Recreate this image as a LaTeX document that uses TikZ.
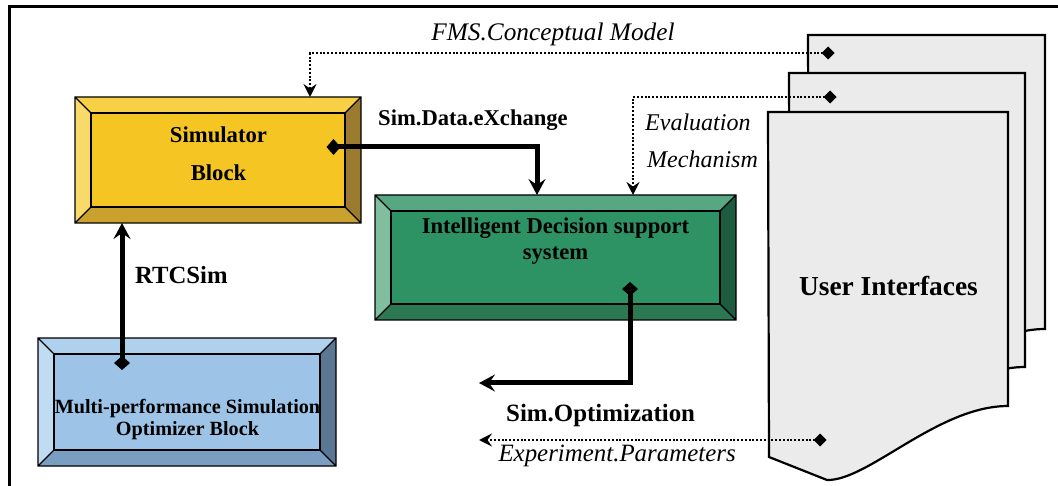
\documentclass[tikz,border=0pt]{standalone}
\usepackage{fontspec}
\setmainfont{Liberation Serif}
\usetikzlibrary{arrows.meta}
\definecolor{yF}{HTML}{F5C623}\definecolor{yT}{HTML}{F7D046}\definecolor{yL}{HTML}{F8DA6B}\definecolor{yR}{HTML}{9B7B2F}\definecolor{yB}{HTML}{C9A12C}
\definecolor{gF}{HTML}{2E9364}\definecolor{gT}{HTML}{57A882}\definecolor{gL}{HTML}{7FBF9F}\definecolor{gR}{HTML}{1D5C3F}\definecolor{gB}{HTML}{2B7852}
\definecolor{bF}{HTML}{9DC3E6}\definecolor{bT}{HTML}{AFD1EE}\definecolor{bL}{HTML}{C0DCF2}\definecolor{bR}{HTML}{5A7894}\definecolor{bB}{HTML}{7A9EC2}
\definecolor{pageF}{HTML}{EBEBEB}
\newcommand{\bevelblock}[6]{%
  \fill[#6T] (#2,#3) -- (#4,#3) -- ({#4-16},{#3+16}) -- ({#2+16},{#3+16}) -- cycle;
  \fill[#6B] (#2,#5) -- (#4,#5) -- ({#4-16},{#5-16}) -- ({#2+16},{#5-16}) -- cycle;
  \fill[#6L] (#2,#3) -- ({#2+16},{#3+16}) -- ({#2+16},{#5-16}) -- (#2,#5) -- cycle;
  \fill[#6R] (#4,#3) -- ({#4-16},{#3+16}) -- ({#4-16},{#5-16}) -- (#4,#5) -- cycle;
  \node[draw, line width=1.4pt, fill=#6F, inner sep=0pt, minimum width={#4-#2-32}, minimum height={#5-#3-32}] (#1) at ({(#2+#4)/2},{(#3+#5)/2}) {};
  \draw[line width=1.4pt] (#2,#3) rectangle (#4,#5)
     (#2,#3) -- ({#2+16},{#3+16}) (#4,#3) -- ({#4-16},{#3+16})
     (#2,#5) -- ({#2+16},{#5-16}) (#4,#5) -- ({#4-16},{#5-16});
}
\newcommand{\docpage}[3]{%
  \filldraw[fill=pageF, draw=black, line width=2.2pt, line join=miter]
    (#1,#2) -- ({#1+#3},#2) -- ({#1+#3},{#2+294})
    .. controls ({#1+#3-70},{#2+294}) and ({#1+100},{#2+369}) .. ({#1+59},{#2+368})
    -- ({#1+1},{#2+345}) -- cycle;
}
\tikzset{
  btxt/.style={font=\bfseries\fontsize{#1}{#1}\selectfont, inner sep=0pt},
  itxt/.style={font=\itshape\fontsize{#1}{#1}\selectfont, inner sep=0pt},
  thickconn/.style={line width=5pt, line join=miter},
  dotconn/.style={line width=2.4pt, dash pattern=on 2pt off 1.8pt},
  barb/.tip={Stealth[length=16pt,width=17pt,inset=6pt]},
  dbarb/.tip={Stealth[length=13pt,width=13pt,inset=4.5pt]},
  bigdia/.tip={Diamond[length=14pt,width=16pt]},
  smalldia/.tip={Diamond[length=13pt,width=13pt]},
}
\begin{document}
\begin{tikzpicture}[x=1pt,y=-1pt]
\useasboundingbox (0,0) rectangle (1058,486);
\fill[white] (0,0) rectangle (1058,486);
% frame
\draw[line width=3pt] (9,495) -- (9,7) -- (1070,7);
% pages
\docpage{808}{35}{237}
\docpage{789}{73}{236}
\docpage{768}{112}{240}
\node[btxt=27.4, anchor=base] (ui) at (888.5,295.7) {User Interfaces};
% blocks
\bevelblock{sim}{75}{97}{361}{223}{y}
\bevelblock{ids}{375}{195}{736}{320}{g}
\bevelblock{mps}{38}{338}{336}{466}{b}
\node[btxt=22.7, anchor=base] (simA) at (218.5,142.7) {Simulator};
\node[btxt=22.7, anchor=base] (simB) at (218.5,181) {Block};
\node[btxt=22.6, anchor=base] (idsA) at (555.5,233.3) {Intelligent Decision support};
\node[btxt=22.6, anchor=base] (idsB) at (555.5,259.3) {system};
\node[btxt=20.2, anchor=base] (mpsA) at (187.5,413.3) {Multi-performance Simulation};
\node[btxt=20.2, anchor=base] (mpsB) at (187.5,435) {Optimizer Block};
% connector coordinates
\coordinate (dFMS) at (834.5,53);
\coordinate (aFMS) at (310,97);
\coordinate (dEval) at (836.5,97);
\coordinate (aEval) at (633,195);
\coordinate (dSim) at (326.5,147);
\coordinate (aSim) at (537,195);
\coordinate (dRTC) at (122,370);
\coordinate (aRTC) at (122,223);
\coordinate (dOpt) at (630,282);
\coordinate (aOpt) at (479,383);
\coordinate (dExp) at (826.5,440);
\coordinate (aExp) at (479,440);
% connectors
\draw[dotconn, smalldia-dbarb] (dFMS) -| (aFMS);
\draw[dotconn, smalldia-dbarb] (dEval) -| (aEval);
\draw[dotconn, smalldia-dbarb] (dExp) -- (aExp);
\draw[thickconn, bigdia-barb] (dSim) -| (aSim);
\draw[thickconn, bigdia-barb] (dRTC) -- (aRTC);
\draw[thickconn, bigdia-barb] (dOpt) |- (aOpt);
% labels
\node[itxt=25.3, anchor=base] (lFMS) at (553,40.7) {FMS.Conceptual Model};
\node[btxt=22.6, anchor=base west] (lSim) at (378,126) {Sim.Data.eXchange};
\node[itxt=24, anchor=base west] (lEv1) at (645,131) {Evaluation};
\node[itxt=24, anchor=base west] (lEv2) at (647,168) {Mechanism};
\node[btxt=24.7, anchor=base west] (lRTC) at (135,283.3) {RTCSim};
\node[btxt=24.9, anchor=base west] (lOpt) at (506,421.7) {Sim.Optimization};
\node[itxt=24.9, anchor=base west] (lExp) at (498.3,461.7) {Experiment.Parameters};
\end{tikzpicture}
\end{document}
